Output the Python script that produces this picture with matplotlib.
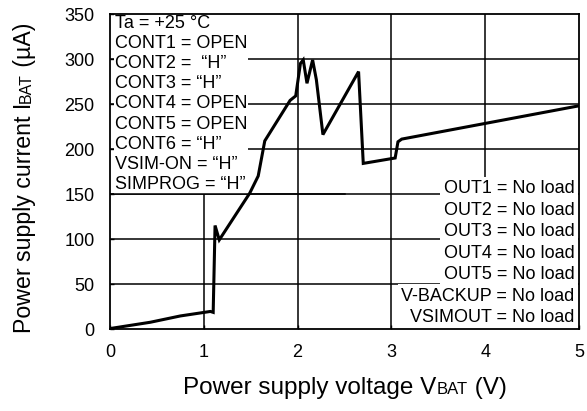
import numpy as np
import matplotlib
matplotlib.use('Agg')
import matplotlib.pyplot as plt

plt.rcParams['font.family'] = ['Liberation Sans', 'DejaVu Sans']

# Curve
vbat = [0.0, 0.43, 0.75, 1.07, 1.10, 1.12, 1.165, 1.49, 1.58, 1.65, 1.92, 1.98,
        2.03, 2.06, 2.10, 2.16, 2.20, 2.27, 2.65, 2.70, 3.04, 3.07, 3.11, 5.0]
ibat = [0.5, 7.5, 14.5, 19.5, 18.5, 115, 99, 151, 170, 209, 254, 259,
        295, 299, 273, 299, 277, 216, 286, 184, 190, 208, 211, 248]

x_ticks = [0, 1, 2, 3, 4, 5]
y_ticks = [0, 50, 100, 150, 200, 250, 300, 350]

cond_left = ['Ta = +25 °C', 'CONT1 = OPEN', 'CONT2 =  “H”', 'CONT3 = “H”',
             'CONT4 = OPEN', 'CONT5 = OPEN', 'CONT6 = “H”', 'VSIM-ON = “H”',
             'SIMPROG = “H”']
cond_right = ['OUT1 = No load', 'OUT2 = No load', 'OUT3 = No load',
              'OUT4 = No load', 'OUT5 = No load', 'V-BACKUP = No load',
              'VSIMOUT = No load']

fig = plt.figure(figsize=(5.87, 4.11), dpi=100)
ax = fig.add_axes([110/587, 82/411, 469/587, 315/411])
ax.set_xlim(0, 5)
ax.set_ylim(0, 350)

# grid
for xv in x_ticks[1:-1]:
    ax.axvline(xv, color='black', lw=1.1, zorder=1)
for yv in y_ticks[1:-1]:
    ax.axhline(yv, color='black', lw=1.1, zorder=1)

ax.plot(vbat, ibat, color='black', lw=2.2, zorder=4, solid_joinstyle='miter')

ax.set_xticks(x_ticks)
ax.set_yticks(y_ticks)
ax.tick_params(direction='in', length=3, labelsize=13, pad=11, width=1)
for s in ax.spines.values():
    s.set_linewidth(1.3)

# left condition block
ax.text(0.011, 0.997, '\n'.join(cond_left), transform=ax.transAxes,
        ha='left', va='top', fontsize=13, linespacing=1.24, zorder=2,
        bbox=dict(facecolor='white', edgecolor='none', pad=0.5))
# the 150 line runs under the bottom of the left block
ax.axhline(150, xmax=0.5, color='black', lw=1.1, zorder=3)

# right condition lines
for i, t in enumerate(cond_right[::-1]):
    yp = 0.035 + i * 0.0685
    ax.text(0.99, yp, t, transform=ax.transAxes, ha='right', va='center',
            fontsize=13, zorder=2,
            bbox=dict(facecolor='white', edgecolor='none', pad=2.5))

# axis labels with small-caps style subscripts
fig.canvas.draw()
r = fig.canvas.get_renderer()

def label_pieces(parts, x, y, rot):
    objs = []
    for txt, fs in parts:
        objs.append(fig.text(0, 0, txt, fontsize=fs, rotation=rot,
                             ha='left', va='baseline', rotation_mode='anchor'))
    sizes = []
    for o in objs:
        bb = o.get_window_extent(r)
        sizes.append(bb.height if rot == 90 else bb.width)
    total = sum(sizes)
    pos = (y if rot == 90 else x) - total / 2
    for o, sz in zip(objs, sizes):
        if rot == 90:
            o.set_position((x / 587, pos / 411))
        else:
            o.set_position((pos / 587, y / 411))
        pos += sz

label_pieces([('Power supply voltage V', 17.5), ('BAT', 12), (' (V)', 17.5)],
             345, 17.5, 0)
label_pieces([('Power supply current I', 16.7), ('BAT', 11.5), (' (µA)', 16.7)],
             31, 411 - 178, 90)

fig.savefig('out.png', dpi=100)
